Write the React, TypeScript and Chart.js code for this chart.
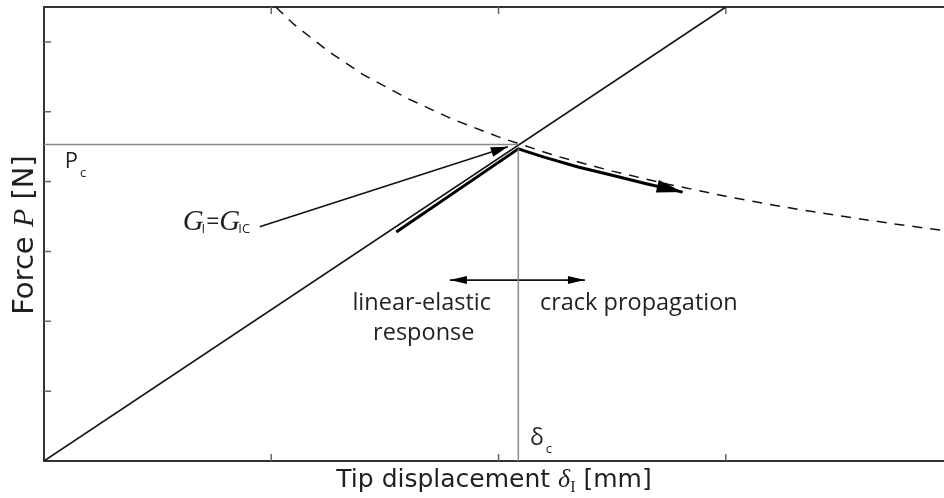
import React, { useEffect, useRef } from "react";
import { Chart, registerables } from "chart.js";

Chart.register(...registerables);

// ---- data (axis units) ----
const X_MIN = 0;
const X_MAX = 3.96;
const Y_MIN = 0;
const Y_MAX = 6.5;
const xTicks = [1, 2, 3];
const yTicks = [1, 2, 3, 4, 5, 6];

// linear-elastic load line
const elasticX = [0, 3.0];
const elasticY = [0, 6.5];

// critical (G = Gc) curve, dashed
const critX = [1.02, 1.1, 1.25, 1.4, 1.6, 1.8, 2.0, 2.25, 2.5, 2.75, 3.0, 3.25, 3.5, 3.75, 3.96];
const critY = [6.5, 6.25, 5.87, 5.54, 5.19, 4.89, 4.64, 4.37, 4.15, 3.96, 3.79, 3.64, 3.51, 3.39, 3.3];

// thick response path (loading then propagation)
const pathX = [1.55, 2.087, 2.2, 2.35, 2.5, 2.65, 2.81];
const pathY = [3.28, 4.47, 4.35, 4.21, 4.09, 3.97, 3.85];

// Pc horizontal reference
const pcX = [0, 2.087];
const pcY = [4.53, 4.53];

// delta_c vertical reference
const dcX = [2.087, 2.087];
const dcY = [0, 4.47];

// callout arrow from G label
const calloutX = [0.949, 2.041];
const calloutY = [3.354, 4.5];

// double-headed span arrow
const spanX = [1.786, 2.38];
const spanY = [2.59, 2.59];

const INK = "#231f20";
const LABEL_FONT = '"Open Sans", "Noto Sans", sans-serif';

function pts(xs: number[], ys: number[]) {
  return xs.map((v, i) => ({ x: v, y: ys[i] }));
}

function drawHead(ctx: CanvasRenderingContext2D, tip: any, from: any, len: number, hw: number) {
  const dx = tip.x - from.x;
  const dy = tip.y - from.y;
  const d = Math.hypot(dx, dy) || 1;
  const ux = dx / d, uy = dy / d;
  const bx = tip.x - ux * len, by = tip.y - uy * len;
  const nx = -uy, ny = ux;
  ctx.beginPath();
  ctx.moveTo(tip.x, tip.y);
  ctx.lineTo(bx + nx * hw, by + ny * hw);
  ctx.lineTo(bx - nx * hw, by - ny * hw);
  ctx.closePath();
  ctx.fill();
}

const framePlugin = {
  id: "frame",
  beforeDatasetsDraw(chart: any) {
    const { ctx, chartArea, scales } = chart;
    const { left, right, top, bottom } = chartArea;
    const x = scales.x, y = scales.y;
    ctx.save();
    ctx.strokeStyle = "#333";
    ctx.lineWidth = 2;
    ctx.beginPath();
    ctx.moveTo(right, top);
    ctx.lineTo(left, top);
    ctx.lineTo(left, bottom);
    ctx.lineTo(right, bottom);
    ctx.stroke();
    ctx.strokeStyle = "#666";
    ctx.lineWidth = 1.5;
    ctx.beginPath();
    xTicks.forEach((v) => {
      const px = x.getPixelForValue(v);
      ctx.moveTo(px, bottom);
      ctx.lineTo(px, bottom - 7);
      ctx.moveTo(px, top);
      ctx.lineTo(px, top + 7);
    });
    yTicks.forEach((v) => {
      const py = y.getPixelForValue(v);
      ctx.moveTo(left, py);
      ctx.lineTo(left + 7, py);
    });
    ctx.stroke();
    ctx.restore();
  },
  afterDatasetsDraw(chart: any) {
    const { ctx, scales } = chart;
    const x = scales.x, y = scales.y;
    ctx.save();
    ctx.fillStyle = "#000";
    chart.data.datasets.forEach((ds: any, i: number) => {
      const meta = chart.getDatasetMeta(i);
      const els = meta.data;
      if (!els || els.length < 2) return;
      if (ds.arrowEnd) {
        drawHead(ctx, els[els.length - 1], els[els.length - 2], ds.arrowEnd[0], ds.arrowEnd[1]);
      }
      if (ds.arrowStart) {
        drawHead(ctx, els[0], els[1], ds.arrowStart[0], ds.arrowStart[1]);
      }
    });

    // annotation texts
    ctx.fillStyle = INK;
    ctx.textBaseline = "alphabetic";
    ctx.font = `23.5px ${LABEL_FONT}`;
    ctx.textAlign = "center";
    ctx.fillText("linear-elastic", x.getPixelForValue(1.662), y.getPixelForValue(2.162));
    ctx.fillText("response", x.getPixelForValue(1.671), y.getPixelForValue(1.732));
    ctx.textAlign = "left";
    ctx.fillText("crack propagation", x.getPixelForValue(2.182), y.getPixelForValue(2.162));

    // P_c
    let px = x.getPixelForValue(0.091);
    let py = y.getPixelForValue(4.195);
    ctx.font = `22px ${LABEL_FONT}`;
    ctx.fillText("P", px, py);
    let w = ctx.measureText("P").width;
    ctx.font = `13px ${LABEL_FONT}`;
    ctx.fillText("c", px + w + 2, py + 9);

    // delta_c
    px = x.getPixelForValue(2.138);
    py = y.getPixelForValue(0.229);
    ctx.font = `23px ${LABEL_FONT}`;
    ctx.fillText("δ", px, py);
    w = ctx.measureText("δ").width;
    ctx.font = `13px ${LABEL_FONT}`;
    ctx.fillText("c", px + w + 2, py + 8);

    // G_I = G_IC
    px = x.getPixelForValue(0.61);
    py = y.getPixelForValue(3.307);
    const gFont = 'italic 29px "Liberation Serif", "DejaVu Serif", serif';
    ctx.font = gFont;
    ctx.fillText("G", px, py);
    px += ctx.measureText("G").width - 2;
    ctx.font = `13px ${LABEL_FONT}`;
    ctx.fillText("I", px, py + 3);
    px += ctx.measureText("I").width + 1;
    ctx.font = `23px ${LABEL_FONT}`;
    ctx.fillText("=", px, py - 1);
    px += ctx.measureText("=").width;
    ctx.font = gFont;
    ctx.fillText("G", px, py);
    px += ctx.measureText("G").width - 2;
    ctx.font = `13px ${LABEL_FONT}`;
    ctx.fillText("IC", px, py + 3);
    ctx.restore();
  },
  afterDraw(chart: any) {
    const { ctx, chartArea } = chart;
    const { left, right, top, bottom } = chartArea;
    ctx.save();
    ctx.fillStyle = INK;
    ctx.textBaseline = "alphabetic";
    ctx.textAlign = "left";

    // x title
    const xsans = '25px "DejaVu Sans", sans-serif';
    const xital = 'italic 26px "Liberation Serif", "DejaVu Serif", serif';
    const xsub = '16px "Liberation Serif", "DejaVu Serif", serif';
    const xParts: [string, string, number][] = [
      ["Tip displacement ", xsans, 0],
      ["δ", xital, 0],
      ["I", xsub, 5],
      [" [mm]", xsans, 0],
    ];
    let total = 0;
    xParts.forEach(([t, f]) => { ctx.font = f; total += ctx.measureText(t).width; });
    let cx = (left + right) / 2 - total / 2;
    const base = bottom + 26;
    xParts.forEach(([t, f, dy]) => {
      ctx.font = f;
      ctx.fillText(t, cx, base + dy);
      cx += ctx.measureText(t).width;
    });

    // y title
    const ysans = '29px "DejaVu Sans", sans-serif';
    const yital = 'italic 30px "Liberation Serif", "DejaVu Serif", serif';
    const yParts: [string, string][] = [
      ["Force ", ysans],
      ["P", yital],
      [" [N]", ysans],
    ];
    total = 0;
    yParts.forEach(([t, f]) => { ctx.font = f; total += ctx.measureText(t).width; });
    ctx.translate(33, (top + bottom) / 2 + 1);
    ctx.rotate(-Math.PI / 2);
    let cy = -total / 2;
    yParts.forEach(([t, f]) => {
      ctx.font = f;
      ctx.fillText(t, cy, 0);
      cy += ctx.measureText(t).width;
    });
    ctx.restore();
  },
};

export default function App() {
  const ref = useRef<HTMLCanvasElement | null>(null);
  useEffect(() => {
    if (!ref.current) return;
    const line = (data: any, extra: any) => ({
      data,
      showLine: true,
      pointRadius: 0,
      pointHoverRadius: 0,
      tension: 0,
      fill: false,
      ...extra,
    });
    const chart = new Chart(ref.current, {
      type: "scatter",
      data: {
        datasets: [
          line(pts(pcX, pcY), { borderColor: "#8a8a8a", borderWidth: 1.5 }),
          line(pts(dcX, dcY), { borderColor: "#8a8a8a", borderWidth: 1.5 }),
          line(pts(elasticX, elasticY), { borderColor: "#111", borderWidth: 1.6 }),
          line(pts(critX, critY), { borderColor: "#111", borderWidth: 1.5, borderDash: [10, 8] }),
          line(pts(pathX, pathY), { borderColor: "#000", borderWidth: 3, borderJoinStyle: "miter", arrowEnd: [26, 6.5] }),
          line(pts(calloutX, calloutY), { borderColor: "#111", borderWidth: 1.6, arrowEnd: [17, 5] }),
          line(pts(spanX, spanY), { borderColor: "#111", borderWidth: 1.6, arrowEnd: [17, 4], arrowStart: [17, 4] }),
        ] as any,
      },
      options: {
        animation: false,
        responsive: false,
        devicePixelRatio: 1,
        layout: { padding: { left: 44, top: 7, right: 0, bottom: 37 } },
        plugins: { legend: { display: false }, tooltip: { enabled: false } },
        events: [],
        scales: {
          x: { type: "linear", min: X_MIN, max: X_MAX, display: false },
          y: { type: "linear", min: Y_MIN, max: Y_MAX, display: false },
        },
      } as any,
      plugins: [framePlugin],
    });
    return () => chart.destroy();
  }, []);
  return (
    <div style={{ position: "absolute", left: 0, top: 0, width: 944, height: 498, background: "#fff" }}>
      <canvas ref={ref} width={944} height={498} style={{ display: "block" }} />
    </div>
  );
}
